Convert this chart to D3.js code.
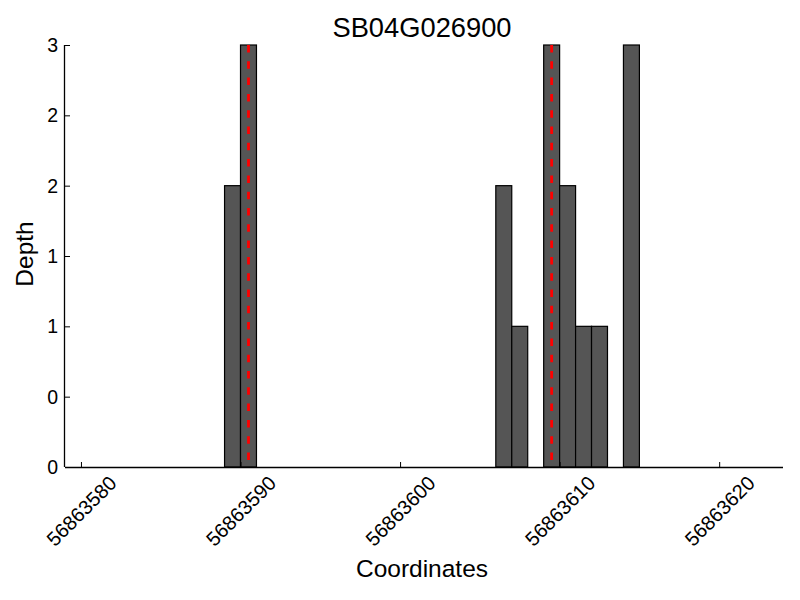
<!DOCTYPE html>
<html>
<head>
<meta charset="utf-8">
<script src="https://cdn.jsdelivr.net/npm/d3@7"></script>
<style>
  body { margin: 0; background: #fff; }
  svg { display: block; font-family: "Liberation Sans", Arial, sans-serif; }
</style>
</head>
<body>
<svg id="chart" width="800" height="600"></svg>
<script>
// ---- data ----
const title = "SB04G026900";
const positions = [56863589, 56863590, 56863606, 56863607, 56863609, 56863610, 56863611, 56863612, 56863614];
const depths    = [2, 3, 2, 1, 3, 2, 1, 1, 3];
const markerPositions = [56863590, 56863609];
const xTicks = [56863580, 56863590, 56863600, 56863610, 56863620];
const yTicks = [0, 0.5, 1, 1.5, 2, 2.5, 3];
const yTickLabels = ["0", "0", "1", "1", "2", "2", "3"];
const xDomain = [56863579, 56863624];
const yDomain = [0, 3];

// ---- layout ----
const mLeft = 65, mRight = 783, mTop = 45, mBottom = 467;
const svg = d3.select("#chart");

const x = d3.scaleLinear().domain(xDomain).range([mLeft, mRight]);
const y = d3.scaleLinear().domain(yDomain).range([mBottom, mTop]);

const bars = positions.map((p, i) => ({ pos: p, depth: depths[i] }));

// bars
svg.append("g").selectAll("rect").data(bars).join("rect")
  .attr("x", d => x(d.pos))
  .attr("width", d => x(d.pos + 1) - x(d.pos))
  .attr("y", d => y(d.depth))
  .attr("height", d => y(0) - y(d.depth))
  .attr("fill", "#555555")
  .attr("stroke", "#000")
  .attr("stroke-width", 1.2);

// marker lines (at bar centre)
svg.append("g").selectAll("line").data(markerPositions).join("line")
  .attr("x1", d => x(d + 0.5)).attr("x2", d => x(d + 0.5))
  .attr("y1", y(yDomain[1])).attr("y2", y(yDomain[0]))
  .attr("stroke", "#ff0000")
  .attr("stroke-width", 2.8)
  .attr("stroke-dasharray", "7.5,8.8");

// x axis
const xAxis = d3.axisBottom(x).tickValues(xTicks).tickSizeInner(-5).tickSizeOuter(0).tickFormat(d3.format("d"));
const gx = svg.append("g").attr("transform", `translate(0,${mBottom})`).call(xAxis);
gx.select(".domain").attr("stroke", "#000").attr("stroke-width", 1.3).attr("d", `M${mLeft},0.5H${mRight}`);
gx.selectAll(".tick line").attr("stroke", "#000").attr("stroke-width", 1);
gx.selectAll(".tick text")
  .attr("font-size", 20)
  .attr("fill", "#000")
  .attr("text-anchor", "middle")
  .attr("dy", null)
  .attr("y", null)
  .attr("dominant-baseline", "central")
  .attr("transform", "translate(0,44) rotate(-45)");

// y axis
const yAxis = d3.axisLeft(y).tickValues(yTicks).tickSizeInner(-5).tickSizeOuter(0)
  .tickFormat((d, i) => yTickLabels[i]);
const gy = svg.append("g").attr("transform", `translate(${mLeft},0)`).call(yAxis);
gy.select(".domain").attr("stroke", "#000").attr("stroke-width", 1.3).attr("d", `M-0.5,${mTop}V${mBottom}`);
gy.selectAll(".tick line").attr("stroke", "#000").attr("stroke-width", 1);
gy.selectAll(".tick text")
  .attr("font-size", 19.5)
  .attr("fill", "#000")
  .attr("x", -7)
  .attr("dy", "0.33em");

// title & labels
svg.append("text").attr("x", 422).attr("y", 37)
  .attr("text-anchor", "middle").attr("font-size", 27.3).attr("fill", "#000").text(title);
svg.append("text").attr("x", 422).attr("y", 577)
  .attr("text-anchor", "middle").attr("font-size", 24.5).attr("fill", "#000").text("Coordinates");
svg.append("text").attr("transform", "translate(33,254) rotate(-90)")
  .attr("text-anchor", "middle").attr("font-size", 24.5).attr("fill", "#000").text("Depth");
</script>
</body>
</html>
